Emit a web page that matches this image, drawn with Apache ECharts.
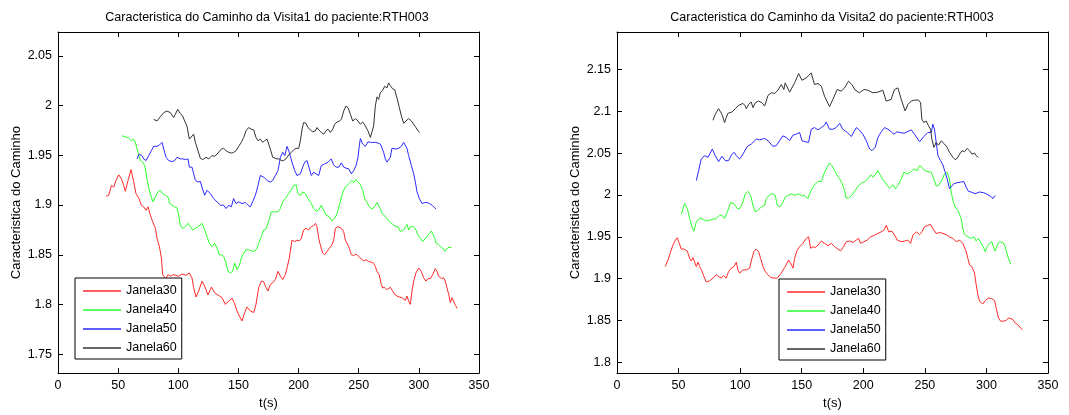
<!DOCTYPE html>
<html><head><meta charset="utf-8">
<script src="https://cdn.jsdelivr.net/npm/echarts@6/dist/echarts.min.js"></script>
<style>html,body{margin:0;padding:0;background:#fff}#c{width:1069px;height:415px}</style>
</head><body><div id="c"></div>
<script>
const seriesNames = ['Janela30','Janela40','Janela50','Janela60'];
const titles = ['Caracteristica do Caminho da Visita1 do paciente:RTH003','Caracteristica do Caminho da Visita2 do paciente:RTH003'];
const xLabel = 't(s)';
const yLabel = 'Caracteristica do Caminho';
const xTicks = [0,50,100,150,200,250,300,350];
const yTicks1 = [1.75,1.8,1.85,1.9,1.95,2,2.05];
const yTicks2 = [1.8,1.85,1.9,1.95,2,2.05,2.1,2.15];

// Visita1
const v1_janela30 = [[39.9,1.9088],[42.1,1.9098],[44.4,1.9197],[46.3,1.9181],[48.2,1.9247],[50.5,1.9304],[52.7,1.9264],[54.6,1.9197],[56.0,1.9138],[58.2,1.9247],[60.7,1.9357],[62.9,1.9237],[64.8,1.9115],[67.1,1.9072],[69.3,1.8998],[71.2,1.8982],[73.2,1.8948],[74.8,1.8982],[76.8,1.8898],[78.7,1.8832],[81.0,1.8766],[82.3,1.8666],[84.3,1.8583],[86.0,1.8467],[87.0,1.8300],[89.5,1.8260],[91.5,1.8300],[93.4,1.8284],[96.2,1.8300],[100.3,1.8284],[103.1,1.8307],[106.4,1.8294],[109.2,1.8317],[111.4,1.8267],[112.8,1.8168],[114.7,1.8075],[117.0,1.8135],[119.7,1.8235],[121.9,1.8185],[124.7,1.8095],[127.5,1.8175],[130.3,1.8118],[133.0,1.8095],[136.4,1.8068],[139.1,1.8001],[141.9,1.8035],[144.7,1.8061],[146.9,1.8008],[148.8,1.7934],[150.8,1.7884],[153.0,1.7834],[155.2,1.7919],[157.1,1.7975],[159.9,1.7934],[162.7,1.7919],[164.6,1.8001],[166.8,1.8168],[169.1,1.8235],[171.0,1.8228],[172.4,1.8185],[174.6,1.8135],[176.5,1.8201],[178.5,1.8218],[180.7,1.8251],[182.9,1.8334],[184.9,1.8284],[186.8,1.8251],[189.0,1.8301],[190.4,1.8367],[192.3,1.8467],[194.5,1.8647],[196.8,1.8633],[198.7,1.8647],[200.6,1.8639],[202.3,1.8666],[204.2,1.8749],[206.2,1.8766],[208.4,1.8749],[210.6,1.8783],[212.5,1.8792],[214.0,1.8816],[215.3,1.8783],[216.7,1.8666],[218.1,1.8599],[220.0,1.8517],[221.7,1.8500],[223.6,1.8533],[225.6,1.8566],[227.8,1.8599],[229.2,1.8647],[230.6,1.8766],[232.8,1.8783],[235.6,1.8766],[237.5,1.8733],[238.9,1.8647],[240.3,1.8616],[242.2,1.8566],[243.9,1.8500],[245.8,1.8493],[247.8,1.8507],[250.0,1.8482],[252.2,1.8458],[254.1,1.8438],[256.1,1.8449],[258.3,1.8432],[260.5,1.8425],[262.4,1.8415],[263.8,1.8382],[265.2,1.8332],[267.1,1.8298],[268.8,1.8199],[269.9,1.8166],[271.6,1.8173],[273.5,1.8149],[274.9,1.8135],[276.3,1.8173],[278.2,1.8135],[279.9,1.8101],[281.8,1.8085],[283.8,1.8075],[286.0,1.8068],[287.4,1.8085],[288.8,1.8041],[290.1,1.8085],[291.5,1.8035],[292.9,1.8001],[294.3,1.8135],[295.7,1.8235],[297.6,1.8317],[299.8,1.8367],[302.0,1.8334],[304.0,1.8268],[305.9,1.8235],[307.6,1.8260],[309.5,1.8260],[311.5,1.8298],[313.7,1.8360],[315.1,1.8334],[316.4,1.8284],[318.7,1.8260],[320.6,1.8268],[322.0,1.8235],[323.4,1.8168],[324.8,1.8101],[326.2,1.8018],[327.5,1.8068],[329.0,1.8050],[330.5,1.7990],[331.8,1.7960]];
const v1_janela40 = [[53.2,1.9696],[56.0,1.9686],[58.8,1.9673],[61.0,1.9646],[62.9,1.9663],[64.3,1.9630],[66.5,1.9530],[68.5,1.9447],[70.4,1.9431],[72.1,1.9397],[74.0,1.9264],[75.9,1.9148],[77.6,1.9082],[79.0,1.9032],[80.9,1.9082],[83.1,1.9132],[85.1,1.9148],[87.0,1.9115],[89.2,1.9098],[91.5,1.9082],[92.8,1.9015],[94.8,1.8998],[97.0,1.8982],[98.9,1.8972],[100.3,1.8898],[101.7,1.8799],[103.6,1.8766],[105.9,1.8783],[108.1,1.8816],[110.0,1.8783],[111.9,1.8749],[114.2,1.8766],[116.4,1.8783],[119.7,1.8816],[121.9,1.8749],[123.9,1.8683],[125.8,1.8616],[128.0,1.8583],[130.3,1.8616],[132.2,1.8566],[134.1,1.8500],[135.8,1.8500],[137.7,1.8484],[139.7,1.8417],[141.3,1.8334],[143.3,1.8317],[145.2,1.8334],[146.9,1.8417],[148.8,1.8350],[150.8,1.8394],[152.4,1.8467],[154.4,1.8517],[156.3,1.8550],[158.5,1.8550],[160.7,1.8540],[163.5,1.8533],[165.4,1.8566],[166.8,1.8616],[169.1,1.8683],[171.0,1.8749],[172.9,1.8759],[175.1,1.8833],[177.3,1.8932],[180.1,1.8932],[182.9,1.8932],[184.9,1.8965],[186.8,1.9032],[189.0,1.9065],[191.8,1.9115],[194.5,1.9164],[196.0,1.9197],[197.9,1.9204],[199.5,1.9115],[201.5,1.9098],[203.4,1.9132],[205.6,1.9115],[207.8,1.9065],[210.6,1.9015],[212.5,1.8965],[214.5,1.8939],[216.7,1.8949],[218.9,1.8998],[220.9,1.8949],[222.8,1.8898],[225.6,1.8882],[227.8,1.8839],[230.0,1.8866],[232.0,1.8915],[233.9,1.8998],[234.7,1.9015],[236.1,1.9098],[237.5,1.9148],[238.9,1.9181],[240.3,1.9171],[241.6,1.9214],[243.0,1.9197],[244.4,1.9247],[245.8,1.9224],[247.8,1.9257],[249.4,1.9237],[251.4,1.9204],[253.3,1.9148],[255.0,1.9065],[256.9,1.9025],[258.8,1.8982],[261.1,1.8958],[262.4,1.8948],[263.8,1.8998],[265.2,1.9025],[266.6,1.9015],[267.9,1.8965],[269.4,1.8915],[271.6,1.8892],[273.5,1.8866],[275.5,1.8832],[277.1,1.8816],[279.0,1.8799],[281.0,1.8783],[282.7,1.8783],[284.6,1.8733],[286.0,1.8716],[287.4,1.8749],[288.8,1.8783],[290.1,1.8806],[291.5,1.8749],[292.9,1.8783],[294.3,1.8799],[295.7,1.8783],[297.6,1.8749],[299.3,1.8697],[301.2,1.8666],[303.2,1.8633],[304.8,1.8649],[306.8,1.8683],[308.8,1.8716],[310.4,1.8739],[311.8,1.8733],[313.2,1.8666],[314.3,1.8616],[316.0,1.8606],[317.9,1.8583],[319.9,1.8566],[321.5,1.8533],[322.6,1.8550],[324.3,1.8573],[327.0,1.8573]];
const v1_janela50 = [[65.7,1.9464],[67.6,1.9513],[69.8,1.9497],[71.2,1.9464],[73.2,1.9447],[75.4,1.9497],[77.6,1.9546],[79.5,1.9590],[82.3,1.9590],[84.3,1.9603],[86.5,1.9630],[87.9,1.9563],[89.8,1.9480],[92.0,1.9447],[94.8,1.9437],[97.0,1.9447],[98.9,1.9480],[101.7,1.9464],[103.6,1.9464],[105.9,1.9457],[108.1,1.9464],[109.2,1.9381],[111.4,1.9381],[112.8,1.9364],[114.2,1.9248],[116.4,1.9231],[118.3,1.9238],[119.7,1.9181],[121.9,1.9098],[123.9,1.9148],[126.6,1.9115],[129.4,1.9065],[132.2,1.9032],[135.2,1.8998],[137.7,1.8998],[139.7,1.8965],[141.9,1.8998],[144.1,1.8982],[146.0,1.9065],[148.0,1.9015],[150.2,1.9032],[153.0,1.9015],[155.8,1.9025],[158.0,1.8998],[159.9,1.8982],[161.8,1.9032],[164.1,1.9098],[166.3,1.9197],[168.2,1.9297],[171.0,1.9281],[173.8,1.9247],[176.5,1.9231],[178.5,1.9247],[180.7,1.9297],[182.9,1.9347],[184.9,1.9480],[186.8,1.9530],[188.5,1.9497],[190.4,1.9590],[192.3,1.9530],[194.5,1.9431],[196.8,1.9347],[198.7,1.9297],[201.5,1.9314],[203.4,1.9381],[205.1,1.9431],[207.0,1.9447],[209.0,1.9364],[210.6,1.9297],[212.5,1.9331],[214.5,1.9314],[216.7,1.9297],[218.9,1.9397],[221.7,1.9414],[224.5,1.9431],[227.2,1.9464],[229.2,1.9404],[231.1,1.9381],[233.4,1.9381],[235.6,1.9424],[237.5,1.9381],[239.4,1.9371],[241.6,1.9364],[243.9,1.9314],[245.8,1.9347],[247.8,1.9397],[249.4,1.9480],[250.5,1.9596],[251.4,1.9670],[253.3,1.9613],[255.5,1.9590],[257.7,1.9636],[259.7,1.9630],[261.6,1.9630],[263.8,1.9630],[266.1,1.9623],[268.0,1.9613],[269.4,1.9596],[270.7,1.9530],[272.1,1.9464],[273.5,1.9431],[274.9,1.9424],[276.3,1.9480],[277.6,1.9570],[279.0,1.9580],[281.0,1.9563],[283.2,1.9570],[285.4,1.9590],[287.4,1.9630],[288.8,1.9646],[290.1,1.9570],[291.5,1.9497],[293.8,1.9397],[295.7,1.9314],[297.1,1.9231],[298.5,1.9132],[300.4,1.9065],[302.7,1.9015],[304.9,1.9025],[306.8,1.9025],[308.8,1.9015],[311.0,1.8998],[312.3,1.8982],[314.3,1.8958]];
const v1_janela60 = [[79.5,1.9862],[82.3,1.9845],[85.1,1.9889],[87.9,1.9929],[90.6,1.9945],[93.4,1.9929],[96.2,1.9879],[97.5,1.9912],[99.5,1.9962],[101.7,1.9920],[103.6,1.9895],[105.3,1.9845],[107.2,1.9795],[109.2,1.9663],[110.8,1.9680],[112.8,1.9713],[114.2,1.9630],[116.4,1.9546],[118.3,1.9471],[120.3,1.9457],[123.0,1.9480],[125.3,1.9464],[128.0,1.9497],[130.3,1.9490],[133.0,1.9523],[135.8,1.9563],[137.7,1.9570],[139.7,1.9546],[141.9,1.9530],[144.1,1.9523],[146.0,1.9530],[148.0,1.9546],[150.2,1.9590],[152.4,1.9630],[154.4,1.9680],[156.3,1.9746],[158.5,1.9779],[160.7,1.9763],[162.7,1.9756],[164.6,1.9680],[166.3,1.9646],[168.2,1.9663],[170.1,1.9630],[171.8,1.9646],[173.8,1.9663],[175.1,1.9613],[176.5,1.9563],[178.5,1.9480],[180.1,1.9470],[182.1,1.9464],[184.0,1.9464],[185.7,1.9447],[187.6,1.9447],[189.5,1.9464],[191.8,1.9503],[194.0,1.9530],[196.0,1.9556],[197.9,1.9570],[200.1,1.9570],[201.5,1.9646],[202.9,1.9763],[204.2,1.9829],[206.2,1.9822],[207.8,1.9779],[209.8,1.9756],[211.7,1.9736],[214.0,1.9746],[215.3,1.9779],[216.7,1.9756],[218.9,1.9730],[220.9,1.9713],[222.8,1.9746],[224.5,1.9763],[226.4,1.9730],[228.4,1.9763],[230.0,1.9812],[232.0,1.9835],[233.9,1.9845],[235.6,1.9862],[237.5,1.9945],[239.4,1.9995],[241.1,1.9979],[243.1,1.9912],[245.0,1.9845],[247.2,1.9869],[249.4,1.9845],[251.3,1.9812],[253.3,1.9835],[255.5,1.9795],[257.7,1.9746],[259.7,1.9680],[261.0,1.9670],[262.4,1.9795],[263.8,1.9995],[265.2,2.0088],[266.6,2.0062],[267.9,2.0128],[269.9,2.0154],[271.6,2.0194],[273.5,2.0178],[274.9,2.0228],[276.3,2.0201],[278.2,2.0168],[279.9,2.0161],[281.8,2.0078],[283.8,1.9979],[285.5,1.9895],[287.4,1.9822],[289.3,1.9845],[291.5,1.9869],[293.8,1.9845],[295.7,1.9812],[297.6,1.9779],[299.3,1.9746],[300.7,1.9730]];

// Visita2
const v2_janela30 = [[39.2,1.9145],[41.4,1.9223],[43.6,1.9323],[45.4,1.9401],[47.4,1.9461],[49.0,1.9489],[50.3,1.9433],[52.2,1.9354],[54.4,1.9354],[57.1,1.9330],[59.0,1.9243],[60.3,1.9212],[61.7,1.9251],[63.1,1.9196],[64.4,1.9145],[65.8,1.9196],[67.1,1.9145],[68.5,1.9105],[70.6,1.9026],[72.5,1.8959],[75.2,1.8974],[77.9,1.9006],[80.6,1.9046],[82.5,1.9026],[84.7,1.9006],[86.6,1.9038],[88.7,1.9006],[90.6,1.9085],[92.8,1.9125],[95.0,1.9145],[96.9,1.9196],[98.2,1.9105],[99.6,1.9066],[102.3,1.9105],[105.0,1.9105],[107.7,1.9125],[109.6,1.9243],[111.2,1.9323],[113.1,1.9354],[115.0,1.9323],[116.6,1.9243],[118.5,1.9145],[120.4,1.9085],[122.6,1.9046],[124.7,1.9014],[127.4,1.9006],[130.1,1.9006],[133.4,1.9066],[136.1,1.9133],[137.4,1.9164],[139.3,1.9223],[141.0,1.9184],[142.9,1.9125],[144.2,1.9243],[146.4,1.9342],[148.3,1.9382],[151.0,1.9422],[153.7,1.9481],[155.6,1.9500],[157.2,1.9362],[159.1,1.9382],[161.0,1.9371],[163.2,1.9401],[165.9,1.9449],[168.6,1.9422],[171.3,1.9394],[174.0,1.9422],[176.7,1.9382],[179.4,1.9354],[181.6,1.9330],[183.5,1.9371],[186.2,1.9441],[188.9,1.9449],[191.6,1.9433],[194.3,1.9461],[196.2,1.9481],[197.8,1.9422],[200.5,1.9441],[203.2,1.9461],[206.0,1.9500],[209.2,1.9520],[211.9,1.9540],[214.6,1.9560],[216.8,1.9580],[218.7,1.9639],[220.6,1.9560],[223.3,1.9568],[225.4,1.9520],[227.6,1.9461],[230.8,1.9441],[233.5,1.9449],[236.2,1.9461],[238.4,1.9422],[240.3,1.9520],[243.0,1.9560],[245.7,1.9528],[247.6,1.9560],[249.7,1.9619],[252.5,1.9639],[254.6,1.9647],[256.5,1.9600],[259.2,1.9540],[262.0,1.9552],[264.7,1.9540],[267.3,1.9528],[270.0,1.9500],[272.7,1.9481],[275.5,1.9441],[278.2,1.9461],[280.8,1.9422],[282.2,1.9402],[283.6,1.9323],[284.9,1.9243],[286.3,1.9164],[288.2,1.9145],[290.3,1.9066],[291.7,1.8927],[293.0,1.8809],[294.4,1.8729],[297.1,1.8697],[299.0,1.8737],[301.7,1.8768],[304.4,1.8760],[306.6,1.8737],[307.9,1.8650],[309.8,1.8531],[311.5,1.8492],[314.2,1.8492],[316.1,1.8499],[318.0,1.8531],[319.6,1.8551],[321.5,1.8511],[323.4,1.8468],[325.5,1.8448],[327.7,1.8409],[329.4,1.8389]];
const v2_janela40 = [[52.2,1.9766],[54.9,1.9897],[57.1,1.9837],[59.0,1.9719],[60.9,1.9620],[62.5,1.9568],[64.4,1.9679],[67.1,1.9727],[69.8,1.9710],[72.5,1.9687],[75.2,1.9699],[77.9,1.9710],[80.6,1.9719],[83.3,1.9758],[85.2,1.9758],[87.4,1.9719],[90.1,1.9817],[92.3,1.9909],[95.0,1.9897],[97.7,1.9837],[99.6,1.9837],[102.3,1.9917],[104.2,2.0015],[106.3,2.0043],[108.5,1.9996],[110.4,1.9877],[112.3,1.9798],[114.4,1.9817],[117.2,1.9857],[119.9,1.9877],[121.2,1.9956],[123.9,2.0004],[126.6,2.0015],[128.5,1.9996],[130.1,1.9877],[132.3,1.9857],[134.7,1.9909],[136.6,1.9976],[138.8,1.9996],[141.5,2.0015],[144.2,1.9996],[147.5,2.0015],[150.2,1.9988],[152.3,1.9996],[155.0,1.9956],[156.4,2.0015],[158.3,2.0075],[160.4,2.0122],[163.2,2.0162],[165.9,2.0162],[168.6,2.0273],[170.7,2.0333],[172.6,2.0384],[174.5,2.0352],[176.7,2.0292],[178.8,2.0233],[180.7,2.0194],[182.6,2.0146],[184.8,2.0055],[186.1,1.9964],[188.0,1.9964],[190.7,1.9996],[193.4,2.0055],[196.2,2.0114],[198.9,2.0146],[201.6,2.0162],[203.7,2.0194],[206.0,2.0241],[207.8,2.0213],[209.7,2.0241],[211.9,2.0292],[214.0,2.0233],[215.9,2.0185],[218.6,2.0134],[221.3,2.0083],[224.1,2.0122],[226.0,2.0075],[228.1,2.0114],[230.3,2.0174],[232.9,2.0273],[235.7,2.0253],[238.4,2.0273],[241.1,2.0312],[243.8,2.0292],[245.7,2.0352],[247.6,2.0333],[249.7,2.0292],[252.5,2.0280],[255.2,2.0273],[257.3,2.0194],[259.2,2.0107],[261.1,2.0114],[263.3,2.0162],[266.0,2.0253],[268.1,2.0273],[270.0,2.0194],[271.4,2.0035],[272.8,1.9936],[274.6,1.9857],[276.8,1.9817],[278.1,1.9798],[279.5,1.9719],[280.8,1.9600],[282.2,1.9528],[284.9,1.9501],[287.6,1.9481],[289.8,1.9501],[291.7,1.9449],[293.5,1.9481],[295.7,1.9422],[297.9,1.9362],[299.0,1.9323],[300.6,1.9382],[302.5,1.9422],[304.4,1.9441],[306.1,1.9362],[307.2,1.9330],[308.8,1.9402],[310.7,1.9441],[313.4,1.9433],[315.3,1.9382],[316.9,1.9283],[318.9,1.9204],[319.7,1.9172]];
const v2_janela50 = [[64.4,2.0173],[66.4,2.0300],[68.4,2.0431],[71.1,2.0470],[73.9,2.0451],[77.4,2.0550],[79.8,2.0470],[82.5,2.0399],[85.2,2.0463],[87.9,2.0411],[90.6,2.0411],[93.0,2.0480],[95.0,2.0511],[96.9,2.0470],[99.6,2.0431],[102.3,2.0490],[105.8,2.0582],[109.0,2.0609],[113.1,2.0669],[115.8,2.0660],[119.9,2.0677],[122.6,2.0650],[126.6,2.0582],[129.3,2.0590],[130.7,2.0582],[134.7,2.0708],[137.4,2.0689],[140.2,2.0650],[142.9,2.0716],[145.6,2.0728],[148.3,2.0748],[150.2,2.0650],[152.9,2.0637],[155.6,2.0630],[157.7,2.0787],[160.4,2.0807],[163.2,2.0779],[165.9,2.0807],[168.5,2.0835],[169.9,2.0874],[172.6,2.0787],[175.4,2.0787],[178.0,2.0807],[180.8,2.0858],[183.4,2.0787],[187.0,2.0748],[190.3,2.0700],[192.4,2.0756],[194.3,2.0807],[196.2,2.0787],[197.8,2.0807],[199.7,2.0728],[202.4,2.0650],[205.1,2.0551],[207.0,2.0531],[209.7,2.0571],[211.9,2.0689],[214.6,2.0756],[217.3,2.0807],[220.0,2.0787],[222.7,2.0756],[224.8,2.0728],[227.5,2.0756],[230.5,2.0745],[233.5,2.0740],[238.9,2.0780],[241.6,2.0728],[245.7,2.0637],[249.2,2.0700],[252.4,2.0748],[255.2,2.0748],[256.5,2.0847],[257.8,2.0787],[259.2,2.0630],[260.6,2.0471],[262.7,2.0412],[264.6,2.0361],[266.5,2.0273],[268.1,2.0194],[270.0,2.0075],[271.4,2.0095],[273.5,2.0135],[276.2,2.0147],[278.9,2.0154],[281.6,2.0162],[283.5,2.0095],[285.4,2.0044],[287.6,2.0036],[290.8,2.0016],[294.4,2.0036],[297.9,2.0028],[301.2,2.0004],[303.9,1.9980],[305.2,1.9956],[307.1,1.9996]];
const v2_janela60 = [[77.9,2.0894],[79.8,2.0966],[82.5,2.1033],[85.2,2.0966],[87.4,2.0867],[88.7,2.0926],[90.1,2.0977],[93.3,2.0993],[96.1,2.1033],[98.7,2.1072],[102.3,2.1096],[104.2,2.1064],[105.0,2.1033],[106.9,2.1084],[109.0,2.1112],[110.4,2.1045],[112.3,2.1104],[115.0,2.1124],[117.7,2.1104],[119.9,2.1064],[122.6,2.1191],[125.3,2.1223],[128.0,2.1215],[130.7,2.1254],[133.4,2.1322],[135.5,2.1262],[136.6,2.1342],[140.2,2.1230],[144.2,2.1342],[147.5,2.1453],[150.2,2.1373],[153.7,2.1401],[157.7,2.1461],[160.4,2.1322],[163.2,2.1334],[165.9,2.1302],[168.5,2.1183],[172.6,2.1056],[175.3,2.1144],[178.8,2.1262],[182.1,2.1243],[184.8,2.1282],[188.0,2.1361],[190.7,2.1322],[193.4,2.1254],[197.0,2.1223],[200.5,2.1262],[203.7,2.1254],[207.8,2.1223],[211.8,2.1230],[215.9,2.1254],[218.6,2.1123],[222.6,2.1144],[225.3,2.1262],[228.1,2.1282],[230.8,2.1144],[234.0,2.1005],[236.2,2.1084],[238.9,2.1124],[241.6,2.1136],[244.9,2.1136],[246.5,2.1104],[247.6,2.0906],[249.2,2.0867],[251.1,2.0886],[253.0,2.0827],[254.6,2.0787],[255.7,2.0669],[257.3,2.0570],[259.2,2.0629],[261.1,2.0597],[263.3,2.0648],[266.0,2.0609],[268.1,2.0570],[270.0,2.0511],[272.8,2.0451],[274.6,2.0423],[276.3,2.0439],[278.2,2.0490],[280.1,2.0530],[282.2,2.0518],[284.4,2.0558],[286.3,2.0530],[288.2,2.0490],[290.3,2.0502],[291.7,2.0470],[293.5,2.0451]];

const colors = ['#ff2a2a','#2aff2a','#2a2aff','#333333'];
const FONT = '"Liberation Sans", Arial, Helvetica, sans-serif';
const FS = 12.5;

const chart = echarts.init(document.getElementById('c'), null, {renderer: 'canvas'});

const fmt = v => String(+(+v).toFixed(2));
function xAx(grid, pos) {
  const main = pos === 'bottom';
  return {
    type: 'value', gridIndex: grid, position: pos, min: 0, max: 350, interval: 50,
    name: main ? xLabel : '', nameLocation: 'middle', nameGap: 22,
    nameTextStyle: {fontFamily: FONT, fontSize: 13, color: '#000'},
    axisLine: {show: true, onZero: false, lineStyle: {color: '#000', width: 1}},
    axisTick: {show: true, inside: true, length: 5, lineStyle: {color: '#000'}},
    axisLabel: {show: main, margin: 6, color: '#000', fontFamily: FONT, fontSize: FS},
    splitLine: {show: false}
  };
}
function yAx(grid, pos, mn, mx, ticks) {
  const main = pos === 'left';
  return {
    type: 'value', gridIndex: grid, position: pos, min: mn, max: mx,
    name: main ? yLabel : '', nameLocation: 'middle', nameGap: 35,
    nameTextStyle: {fontFamily: FONT, fontSize: 13, color: '#000'},
    axisLine: {show: true, onZero: false, lineStyle: {color: '#000', width: 1}},
    axisTick: {show: true, inside: true, length: 5, customValues: ticks, lineStyle: {color: '#000'}},
    axisLabel: {show: main, margin: 6, color: '#000', fontFamily: FONT, fontSize: FS, customValues: ticks, formatter: fmt},
    splitLine: {show: false}
  };
}
function mkSeries(name, data, xi, yi, ci) {
  return {
    type: 'line', name: name, data: data, xAxisIndex: xi, yAxisIndex: yi,
    showSymbol: false, symbol: 'none', silent: true, animation: false,
    lineStyle: {width: 1, color: colors[ci]}, itemStyle: {color: colors[ci]},
    emphasis: {disabled: true}
  };
}
function mkLegend(left, top) {
  return {
    left: left, top: top, orient: 'vertical', data: seriesNames, icon: 'rect',
    itemWidth: 38, itemHeight: 1.5, itemGap: 5, padding: [6, 5, 4, 8],
    backgroundColor: '#fff', borderColor: '#000', borderWidth: 1, borderRadius: 0,
    selectedMode: false,
    textStyle: {fontFamily: FONT, fontSize: FS, lineHeight: 14, color: '#000'}
  };
}

const option = {
  animation: false,
  backgroundColor: '#fff',
  textStyle: {fontFamily: FONT},
  title: [
    {text: titles[0], left: 267, top: 11, textAlign: 'center', padding: 0,
     textStyle: {fontFamily: FONT, fontSize: FS, fontWeight: 'normal', color: '#000'}},
    {text: titles[1], left: 832, top: 11, textAlign: 'center', padding: 0,
     textStyle: {fontFamily: FONT, fontSize: FS, fontWeight: 'normal', color: '#000'}}
  ],
  grid: [
    {left: 58, top: 32, width: 421, height: 344, containLabel: false, show: false},
    {left: 617, top: 32, width: 431, height: 344, containLabel: false, show: false}
  ],
  xAxis: [xAx(0, 'bottom'), xAx(0, 'top'), xAx(1, 'bottom'), xAx(1, 'top')],
  yAxis: [
    yAx(0, 'left', 1.731, 2.074, yTicks1), yAx(0, 'right', 1.731, 2.074, yTicks1),
    yAx(1, 'left', 1.787, 2.195, yTicks2), yAx(1, 'right', 1.787, 2.195, yTicks2)
  ],
  legend: [mkLegend(75, 278), mkLegend(779, 279)],
  series: [
    mkSeries(seriesNames[0], v1_janela30, 0, 0, 0),
    mkSeries(seriesNames[1], v1_janela40, 0, 0, 1),
    mkSeries(seriesNames[2], v1_janela50, 0, 0, 2),
    mkSeries(seriesNames[3], v1_janela60, 0, 0, 3),
    mkSeries(seriesNames[0], v2_janela30, 2, 2, 0),
    mkSeries(seriesNames[1], v2_janela40, 2, 2, 1),
    mkSeries(seriesNames[2], v2_janela50, 2, 2, 2),
    mkSeries(seriesNames[3], v2_janela60, 2, 2, 3)
  ]
};
chart.setOption(option);
</script>
</body></html>
